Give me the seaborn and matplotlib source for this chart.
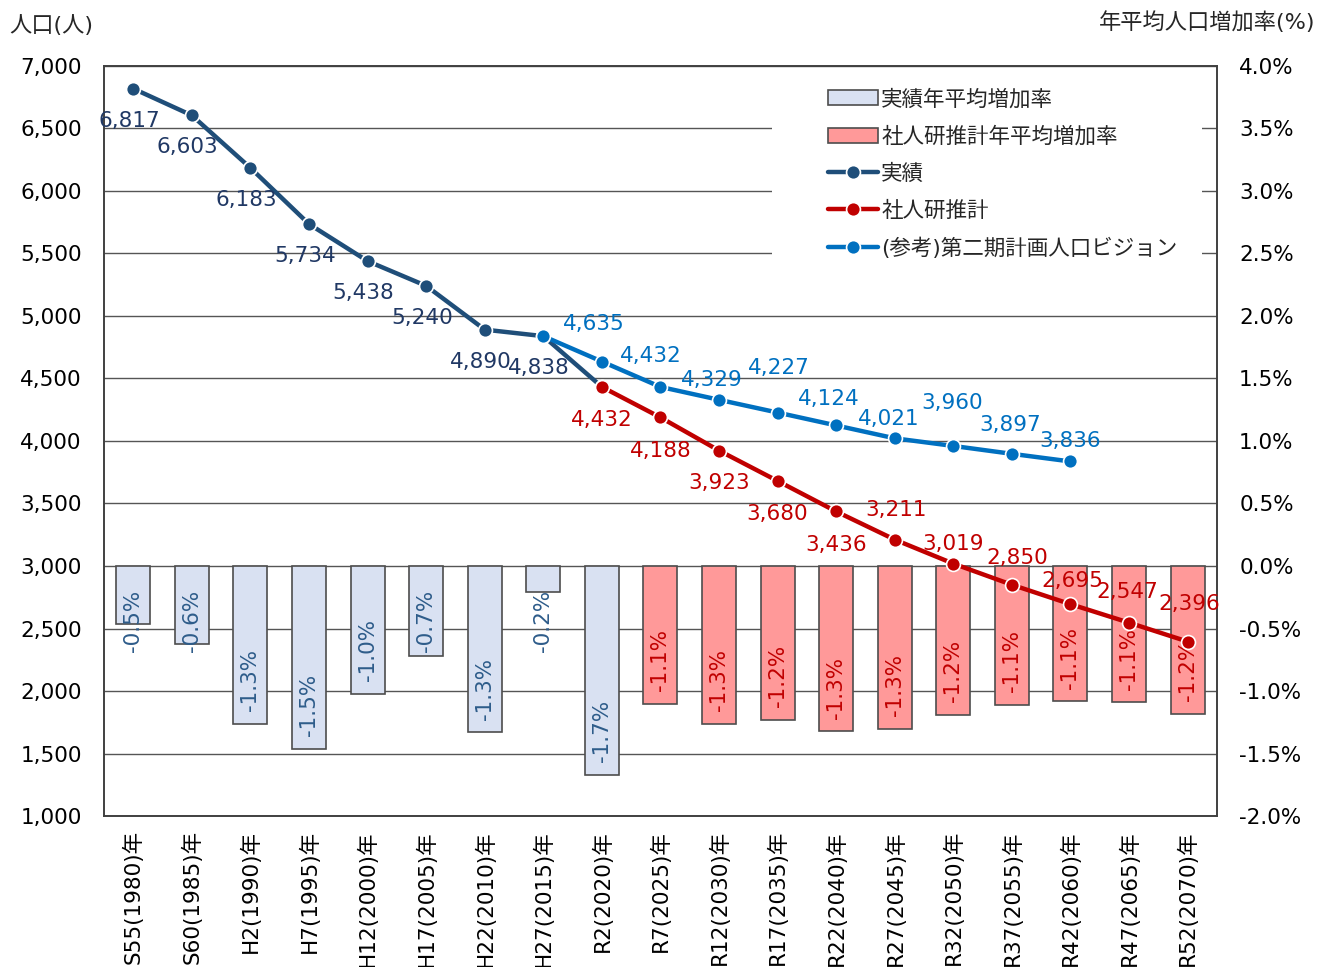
import numpy as np
import pandas as pd
import matplotlib
matplotlib.use("Agg")
import matplotlib.pyplot as plt
import seaborn as sns
from matplotlib.patches import Patch, Rectangle
from matplotlib.lines import Line2D
from matplotlib.ticker import FuncFormatter

# --- data ---
years = ['S55(1980)年', 'S60(1985)年', 'H2(1990)年', 'H7(1995)年', 'H12(2000)年',
         'H17(2005)年', 'H22(2010)年', 'H27(2015)年', 'R2(2020)年', 'R7(2025)年',
         'R12(2030)年', 'R17(2035)年', 'R22(2040)年', 'R27(2045)年', 'R32(2050)年',
         'R37(2055)年', 'R42(2060)年', 'R47(2065)年', 'R52(2070)年']

actual_pop = [6817, 6603, 6183, 5734, 5438, 5240, 4890, 4838, 4432]          # S55..R2
ipss_pop = [4432, 4188, 3923, 3680, 3436, 3211, 3019, 2850, 2695, 2547, 2396]  # R2..R52
vision_pop = [4838, 4635, 4432, 4329, 4227, 4124, 4021, 3960, 3897, 3836]     # H27..R42

actual_rate = [-0.46, -0.62, -1.26, -1.46, -1.02, -0.72, -1.33, -0.21, -1.67]  # S55..R2
ipss_rate = [-1.10, -1.26, -1.23, -1.32, -1.30, -1.19, -1.11, -1.08, -1.09, -1.18]  # R7..R52

# colours
c_actual = '#1F4E79'
c_actual_lbl = '#203864'
c_ipss = '#C00000'
c_vision = '#0070C0'
c_bar_actual = '#D9E1F2'
c_bar_ipss = '#FF9999'
c_bar_edge = '#4D4D4D'
c_grid = '#555555'

sns.set_style("white")
plt.rcParams['font.family'] = ['DejaVu Sans', 'Noto Sans CJK JP']
FS = 15.5

# tables for seaborn
rates = pd.DataFrame({
    'year': years,
    'rate': actual_rate + ipss_rate,
    'kind': ['actual'] * len(actual_rate) + ['ipss'] * len(ipss_rate),
})
start_ipss = len(actual_pop) - 1
start_vision = len(actual_pop) - 2
df_actual = pd.DataFrame({'pos': np.arange(len(actual_pop)), 'pop': actual_pop})
df_ipss = pd.DataFrame({'pos': np.arange(len(ipss_pop)) + start_ipss, 'pop': ipss_pop})
df_vision = pd.DataFrame({'pos': np.arange(len(vision_pop)) + start_vision, 'pop': vision_pop})

fig, ax = plt.subplots(figsize=(13.17, 9.67), dpi=100)
fig.subplots_adjust(left=0.079, right=0.924, top=0.932, bottom=0.156)
ax2 = ax.twinx()

# bars (rates) on the twin axis, drawn below the lines
sns.barplot(data=rates, x='year', y='rate', hue='kind', order=years,
            palette={'actual': c_bar_actual, 'ipss': c_bar_ipss}, saturation=1,
            dodge=False, width=0.58, edgecolor=c_bar_edge, linewidth=1.2,
            legend=False, ax=ax2, zorder=2)
ax2.set_ylim(-2.0, 4.0)
ax2.set_yticks(np.arange(-2.0, 4.01, 0.5))
ax2.yaxis.set_major_formatter(FuncFormatter(lambda v, p: f'{v:.1f}%'))
ax2.grid(axis='y', color=c_grid, lw=1.0)
ax2.set_axisbelow(True)
ax2.set_ylabel('')
ax2.set_xlabel('')

# white area behind the legend (hides gridlines)
ax2.add_patch(Rectangle((0.600, 0.735), 0.387, 0.255, transform=ax2.transAxes,
                        facecolor='white', edgecolor='none', zorder=1.5))

# bar labels
for i, v in enumerate(rates['rate']):
    col = '#2E5C8A' if rates['kind'][i] == 'actual' else c_ipss
    ax2.text(i, min(v + 0.1, -0.69), f'{v:.1f}%', rotation=90, ha='center',
             va='bottom', fontsize=FS, color=col, zorder=3)

# lines (population) on the main axis, drawn on top
ax.set_zorder(ax2.get_zorder() + 1)
ax.patch.set_visible(False)
line_kw = dict(marker='o', markersize=10, markeredgecolor='white',
               markeredgewidth=1.2, linewidth=3.2)
sns.lineplot(data=df_actual, x='pos', y='pop', color=c_actual, ax=ax, **line_kw)
sns.lineplot(data=df_ipss, x='pos', y='pop', color=c_ipss, ax=ax, **line_kw)
sns.lineplot(data=df_vision, x='pos', y='pop', color=c_vision, ax=ax, **line_kw)

ax.set_ylim(1000, 7000)
ax.set_yticks(np.arange(1000, 7001, 500))
ax.yaxis.set_major_formatter(FuncFormatter(lambda v, p: f'{int(v):,}'))
ax.set_xlim(-0.5, len(years) - 0.5)
ax.set_xticks(np.arange(len(years)))
ax.set_xticklabels(years, rotation=90)
ax.set_xlabel('')
ax.set_ylabel('')

# data labels
for x, y in zip(df_actual['pos'][:-1], df_actual['pop'][:-1]):
    ax.annotate(f'{y:,}', (x, y), xytext=(-3, -23), textcoords='offset points',
                ha='center', va='center', fontsize=FS, color=c_actual_lbl)

ipss_dx = [0, 0, 0, 0, 0, 1, 0, 4, 1, -1, 1]
ipss_dy = [-24, -24, -23, -24, -24, 21, 14, 19, 17, 22, 27]
for (x, y), dx, dy in zip(zip(df_ipss['pos'], df_ipss['pop']), ipss_dx, ipss_dy):
    ax.annotate(f'{y:,}', (x, y), xytext=(dx, dy), textcoords='offset points',
                ha='center', va='center', fontsize=FS, color=c_ipss)

vis_dx = [-6, -7, -5, 1, -5, -4, -1, -1, 0]
vis_dy = [27, 22, 14, 32, 19, 14, 31, 21, 15]
for (x, y), dx, dy in zip(zip(df_vision['pos'][1:], df_vision['pop'][1:]), vis_dx, vis_dy):
    ax.annotate(f'{y:,}', (x, y), xytext=(dx, dy), textcoords='offset points',
                ha='center', va='center', fontsize=FS, color=c_vision)

# ticks and frame
ax.tick_params(axis='both', length=0, labelsize=FS, colors='#000000')
ax.tick_params(axis='y', pad=16)
ax.tick_params(axis='x', pad=10)
ax2.tick_params(axis='y', length=0, labelsize=FS, pad=16, colors='#000000')
for a in (ax, ax2):
    for s in a.spines.values():
        s.set_color('#404040')
        s.set_linewidth(1.2)

# legend
handles = [
    Patch(facecolor=c_bar_actual, edgecolor=c_bar_edge, linewidth=1.2),
    Patch(facecolor=c_bar_ipss, edgecolor=c_bar_edge, linewidth=1.2),
    Line2D([], [], color=c_actual, **line_kw),
    Line2D([], [], color=c_ipss, **line_kw),
    Line2D([], [], color=c_vision, **line_kw),
]
labels = ['実績年平均増加率', '社人研推計年平均増加率', '実績', '社人研推計',
          '(参考)第二期計画人口ビジョン']
ax.legend(handles, labels, loc='upper left', bbox_to_anchor=(0.647, 0.975),
          frameon=False, fontsize=FS, handlelength=2.3, handletextpad=0.15,
          labelspacing=0.78, borderaxespad=0, borderpad=0.2)

# axis titles
fig.text(0.007, 0.974, '人口(人)', fontsize=16, ha='left', va='center')
fig.text(0.999, 0.977, '年平均人口増加率(%)', fontsize=16, ha='right', va='center')

fig.savefig('out.png', dpi=100)
